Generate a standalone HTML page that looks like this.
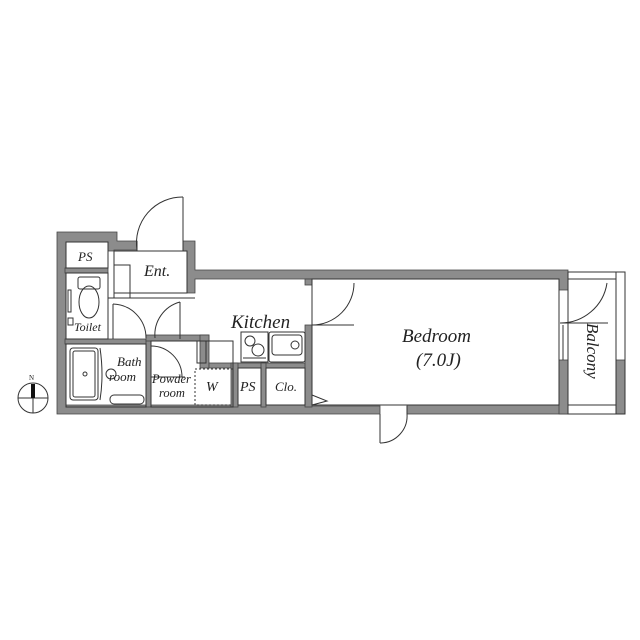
<!DOCTYPE html>
<html><head><style>html,body{margin:0;padding:0;background:#fff}svg{display:block}
text{font-family:"Liberation Serif",serif;font-style:italic;fill:#222}</style></head>
<body>
<svg width="640" height="640" viewBox="0 0 640 640" xmlns="http://www.w3.org/2000/svg">
<g fill="#8c8c8c" stroke="#444" stroke-width="0.8">
<path d="M57,232 H117 V241 H137 V250 H114 V251 H108 V242 H66 V405 H307 V406 H380 V414 H57 Z"/>
<path d="M183,241 H195 V270 H568 V290 H559 V279 H195 V293 H187 V251 H183 Z"/>
<rect x="407" y="405" width="161" height="9"/>
<rect x="559" y="360" width="9" height="54"/>
<rect x="616" y="360" width="9" height="54"/>
<rect x="65" y="268" width="43" height="5"/>
<rect x="65" y="339" width="86" height="5"/>
<rect x="146" y="339" width="5" height="68"/>
<rect x="146" y="335" width="63" height="6"/>
<rect x="200" y="335" width="9" height="33"/>
<rect x="209" y="363" width="98" height="5"/>
<rect x="231" y="363" width="7" height="44"/>
<rect x="261" y="363" width="5" height="44"/>
<rect x="305" y="279" width="7" height="6"/>
<rect x="305" y="325" width="7" height="82"/>
</g>
<g fill="none" stroke="#333" stroke-width="1">
<rect x="66" y="242" width="42" height="26"/>
<rect x="66" y="273" width="42" height="66"/>
<rect x="114" y="251" width="73" height="42"/>
<rect x="114" y="265" width="16" height="33"/>
<line x1="108" y1="298" x2="195" y2="298"/>
<line x1="183" y1="197" x2="183" y2="251"/>
<path d="M137,250 A46,46 0 0 1 183,197"/>
<line x1="137" y1="241" x2="137" y2="251"/>
<line x1="113" y1="304" x2="113" y2="339"/>
<path d="M113,304 A34,34 0 0 1 146,338"/>
<line x1="180" y1="302" x2="180" y2="339"/>
<path d="M180,302 A34,34 0 0 0 155,338"/>
<line x1="108" y1="273" x2="108" y2="339"/>
<rect x="66" y="344" width="80" height="63"/>
<rect x="70" y="348" width="28" height="52" rx="3"/>
<rect x="73" y="351" width="22" height="46" rx="2"/>
<circle cx="85" cy="374" r="2"/>
<path d="M100,348 Q104,375 100,400"/>
<circle cx="111" cy="374" r="5"/>
<rect x="110" y="395" width="34" height="9" rx="4"/>
<rect x="78" y="277" width="22" height="12" rx="2"/>
<ellipse cx="89" cy="302" rx="10" ry="16"/>
<rect x="68" y="290" width="3" height="22"/>
<rect x="68" y="318" width="5" height="7"/>
<rect x="151" y="341" width="82" height="66"/>
<path d="M151,346 A31,31 0 0 1 182,377"/>
<line x1="151" y1="377" x2="185" y2="377"/>
<rect x="197" y="341" width="9" height="22"/>
<rect x="195" y="369" width="38" height="36" stroke-dasharray="2,2"/>
<rect x="238" y="368" width="23" height="37"/>
<rect x="266" y="368" width="39" height="37"/>
<rect x="241" y="332" width="27" height="30"/>
<circle cx="250" cy="341" r="5"/><circle cx="258" cy="350" r="6"/>
<line x1="243" y1="358" x2="266" y2="358"/>
<rect x="269" y="332" width="36" height="30" rx="2"/>
<rect x="272" y="335" width="30" height="20" rx="3"/>
<circle cx="295" cy="345" r="4"/>
<path d="M312,395 L327,401 L312,405"/>
<rect x="312" y="279" width="247" height="126"/>
<line x1="312" y1="325" x2="354" y2="325"/>
<path d="M312,325 A42,42 0 0 0 354,283"/>
<line x1="380" y1="414" x2="380" y2="443"/>
<path d="M380,443 A27,27 0 0 0 407,414"/>
<line x1="407" y1="406" x2="407" y2="414"/>
<rect x="568" y="272" width="57" height="142"/>
<line x1="568" y1="279" x2="616" y2="279"/>
<line x1="568" y1="405" x2="616" y2="405"/>
<line x1="616" y1="272" x2="616" y2="414"/>
<line x1="560" y1="323" x2="608" y2="323"/>
<path d="M560,323 A47,47 0 0 0 607,283"/>
<line x1="563" y1="325" x2="563" y2="360"/>
<circle cx="33" cy="398" r="15"/>
<line x1="18" y1="398" x2="48" y2="398"/>
<line x1="33" y1="398" x2="33" y2="413"/>
</g>
<rect x="31" y="384" width="4" height="14" fill="#111"/>
<text x="29" y="380" font-size="7" style="font-style:normal">N</text>
<text x="78" y="261" font-size="13">PS</text>
<text x="144" y="276" font-size="16">Ent.</text>
<text x="231" y="328" font-size="19">Kitchen</text>
<text x="74" y="331" font-size="12">Toilet</text>
<text x="117" y="366" font-size="13">Bath</text>
<text x="109" y="381" font-size="13">room</text>
<text x="152" y="383" font-size="12.5">Powder</text>
<text x="159" y="397" font-size="12.5">room</text>
<text x="206" y="391" font-size="14">W</text>
<text x="240" y="391" font-size="14">PS</text>
<text x="275" y="391" font-size="13">Clo.</text>
<text x="402" y="342" font-size="19">Bedroom</text>
<text x="416" y="366" font-size="19">(7.0J)</text>
<text x="0" y="0" font-size="17" transform="translate(587,323) rotate(90)">Balcony</text>
</svg>
</body></html>
